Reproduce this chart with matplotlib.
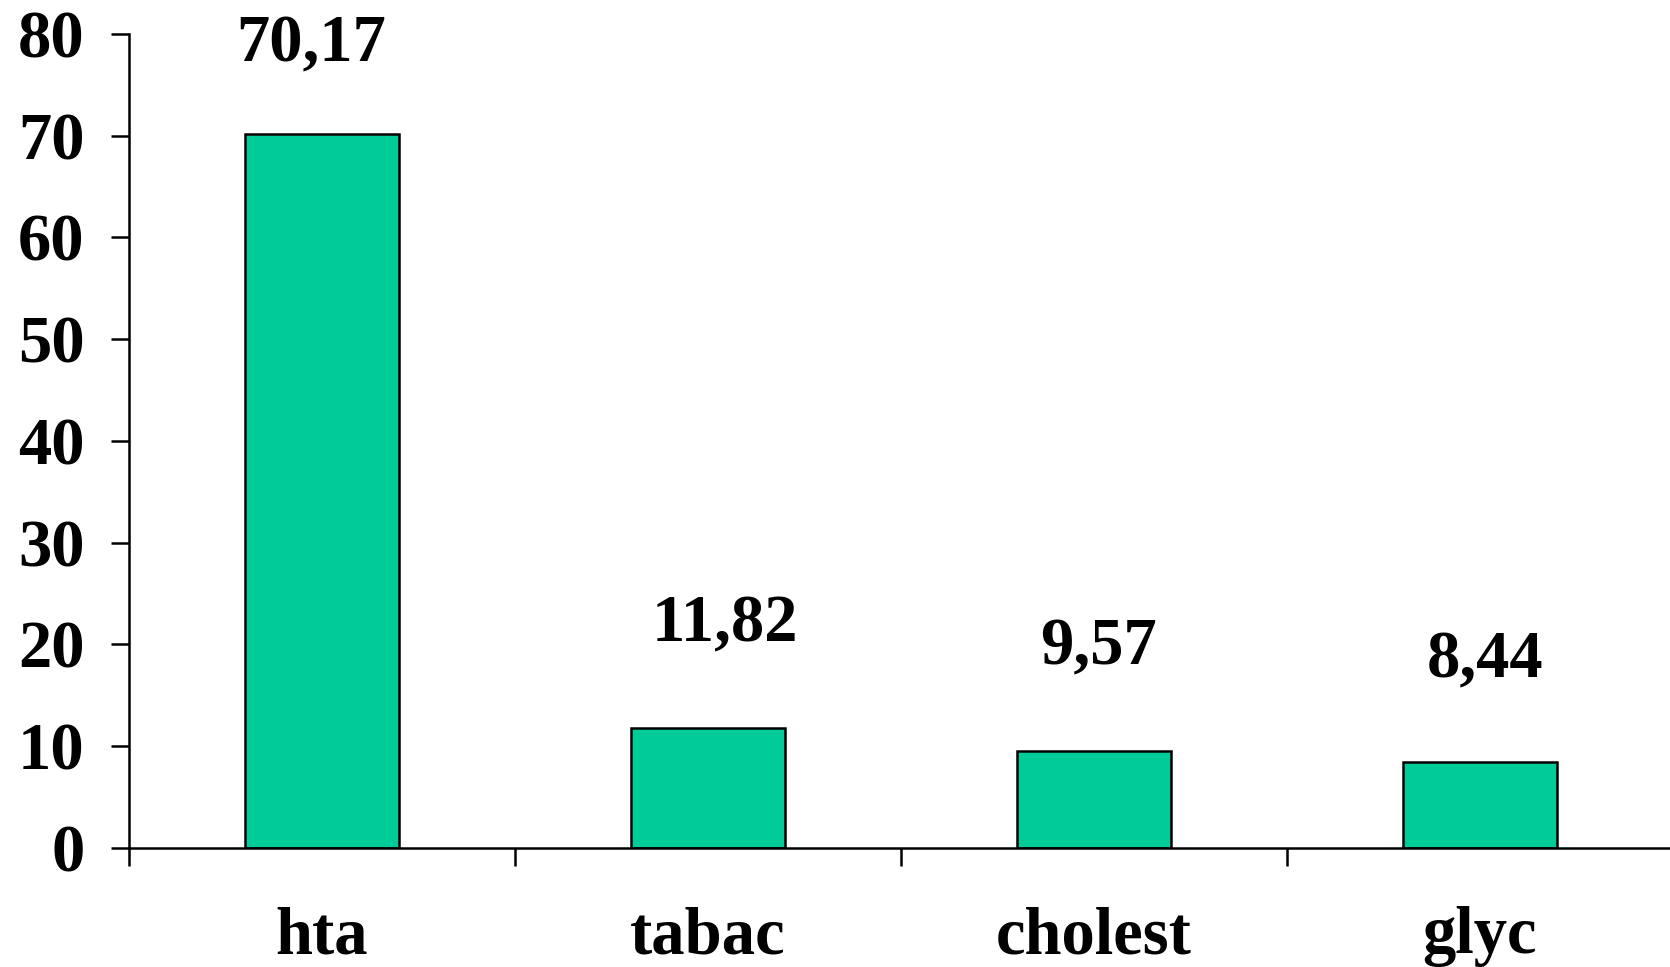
import matplotlib
matplotlib.use("Agg")
import matplotlib.pyplot as plt

categories = ["hta", "tabac", "cholest", "glyc"]
values = [70.17, 11.82, 9.57, 8.44]
value_labels = ["70,17", "11,82", "9,57", "8,44"]
yticks = [0, 10, 20, 30, 40, 50, 60, 70, 80]

# label placement offsets (points)
label_dx = [-8, 12, 3, 4]
label_dy = [64, 74, 74, 73]

plt.rcParams['font.family'] = ['Liberation Serif', 'DejaVu Serif']
plt.rcParams['font.weight'] = 'bold'

FS = 48

fig = plt.figure(figsize=(16.70, 9.67), dpi=100)
ax = fig.add_axes([0.0772, 0.1231, 0.9246, 0.8418])

x = list(range(len(categories)))
ax.bar(x, values, width=0.4, color="#00CC99", edgecolor="black", linewidth=1.8, zorder=3)

ax.set_xlim(-0.5, len(categories) - 0.5)
ax.set_ylim(0, 80)
ax.set_yticks(yticks)
ax.set_yticklabels([str(t) for t in yticks], fontsize=FS, fontweight='bold')

ax.set_xticks([i - 0.5 for i in range(len(categories) + 1)])
ax.set_xticklabels([])
ax.set_xticks(x, minor=True)
ax.set_xticklabels(categories, minor=True, fontsize=FS, fontweight='bold')
ax.tick_params(axis='x', which='minor', length=0, pad=42)
ax.tick_params(axis='x', which='major', length=13, width=1.8, direction='out')
ax.tick_params(axis='y', length=13, width=1.8, direction='out', pad=19)

for s in ['top', 'right']:
    ax.spines[s].set_visible(False)
for s in ['left', 'bottom']:
    ax.spines[s].set_linewidth(1.8)
    ax.spines[s].set_zorder(4)

for i, (v, lab) in enumerate(zip(values, value_labels)):
    ax.annotate(lab, xy=(i, v), xytext=(label_dx[i], label_dy[i]), textcoords='offset points',
                ha='center', va='center', fontsize=FS, fontweight='bold', annotation_clip=False)

fig.savefig("out.png", dpi=100)
